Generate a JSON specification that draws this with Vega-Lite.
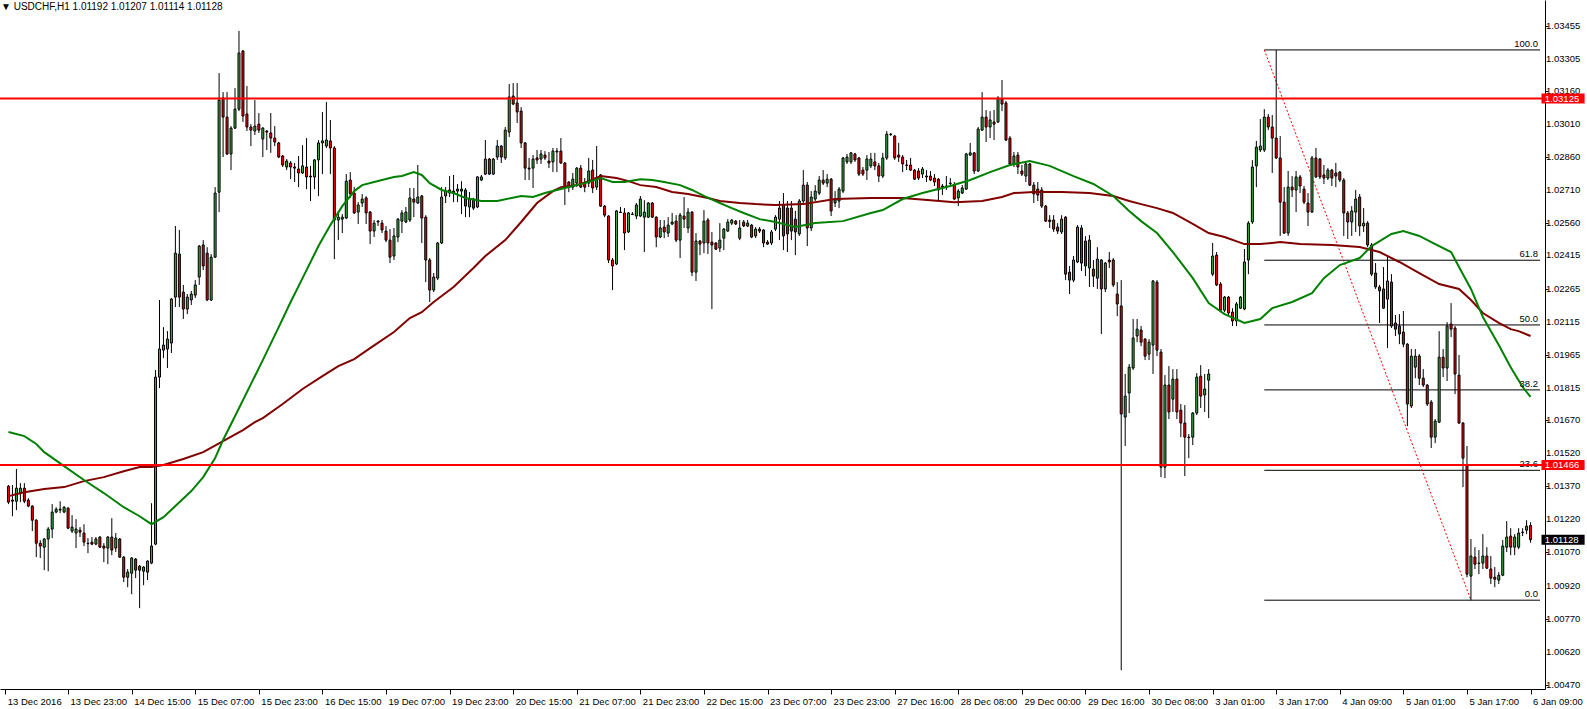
{
"$schema":"https://vega.github.io/schema/vega-lite/v6.json",
"width":1545,"height":689,
"autosize":{"type":"none"},
"padding":{"left":0,"top":0,"right":42,"bottom":20},
"background":"white",
"config":{"view":{"stroke":null},"font":"Liberation Sans","axis":{"labelOverlap":false,"labelBound":false,"labelFlush":false}},
"title":{"text":"▼ USDCHF,H1  1.01192 1.01207 1.01114 1.01128","anchor":"start","offset":-12,"fontSize":10,"fontWeight":"normal","color":"#000","font":"Liberation Sans","dx":2},
"datasets":{
"yt":[{"v":1.0047},{"v":1.0062},{"v":1.0077},{"v":1.0092},{"v":1.0107},{"v":1.0122},{"v":1.0137},{"v":1.0152},{"v":1.0167},{"v":1.01815},{"v":1.01965},{"v":1.02115},{"v":1.02265},{"v":1.02415},{"v":1.0256},{"v":1.0271},{"v":1.0286},{"v":1.0301},{"v":1.0316},{"v":1.03305},{"v":1.03455}],
"fib":[{"lv":"100.0","p":1.03345,"a":316,"b":385.375},{"lv":"61.8","p":1.02393,"a":316,"b":385.375},{"lv":"50.0","p":1.021,"a":316,"b":385.375},{"lv":"38.2","p":1.01806,"a":316,"b":385.375},{"lv":"23.6","p":1.01442,"a":316,"b":385.375},{"lv":"0.0","p":1.00854,"a":316,"b":385.375}],
"trend":[{"i0":316,"p0":1.03345,"i1":368,"p1":1.00854}],
"tags":[{"p":1.03125,"t":"1.03125","k":"level"},{"p":1.01466,"t":"1.01466","k":"level"},{"p":1.01128,"t":"1.01128","k":"bid"}],
"maf":[{"i":0,"v":1.01615},{"i":4,"v":1.01597},{"i":7,"v":1.01561},{"i":9,"v":1.01524},{"i":14,"v":1.01461},{"i":19,"v":1.01398},{"i":24,"v":1.01339},{"i":29,"v":1.01275},{"i":33,"v":1.01234},{"i":36,"v":1.01198},{"i":39,"v":1.0123},{"i":42,"v":1.0128},{"i":46,"v":1.01348},{"i":49,"v":1.01411},{"i":52,"v":1.01497},{"i":54,"v":1.01579},{"i":57,"v":1.01687},{"i":61,"v":1.01832},{"i":64,"v":1.01941},{"i":68,"v":1.0209},{"i":71,"v":1.02204},{"i":74,"v":1.02312},{"i":78,"v":1.02457},{"i":81,"v":1.02552},{"i":84,"v":1.02638},{"i":87,"v":1.02706},{"i":89,"v":1.02733},{"i":92,"v":1.02747},{"i":94,"v":1.02756},{"i":97,"v":1.0277},{"i":99,"v":1.02774},{"i":102,"v":1.02792},{"i":104,"v":1.02779},{"i":106,"v":1.02742},{"i":109,"v":1.02711},{"i":112,"v":1.02697},{"i":115,"v":1.02675},{"i":119,"v":1.02661},{"i":123,"v":1.02661},{"i":129,"v":1.02684},{"i":132,"v":1.02679},{"i":135,"v":1.02697},{"i":140,"v":1.0272},{"i":145,"v":1.02742},{"i":149,"v":1.02765},{"i":152,"v":1.02747},{"i":155,"v":1.02747},{"i":159,"v":1.0276},{"i":162,"v":1.02756},{"i":165,"v":1.02747},{"i":169,"v":1.02733},{"i":172,"v":1.02711},{"i":175,"v":1.02684},{"i":179,"v":1.02652},{"i":182,"v":1.02629},{"i":185,"v":1.02607},{"i":189,"v":1.02579},{"i":193,"v":1.02566},{"i":198,"v":1.02543},{"i":203,"v":1.02561},{"i":210,"v":1.0257},{"i":217,"v":1.02607},{"i":220,"v":1.0262},{"i":225,"v":1.0267},{"i":230,"v":1.02697},{"i":237,"v":1.02729},{"i":242,"v":1.02756},{"i":247,"v":1.02792},{"i":252,"v":1.02824},{"i":257,"v":1.02842},{"i":262,"v":1.0282},{"i":268,"v":1.02774},{"i":273,"v":1.02738},{"i":278,"v":1.02684},{"i":282,"v":1.02616},{"i":285,"v":1.0257},{"i":289,"v":1.02516},{"i":293,"v":1.0243},{"i":298,"v":1.02312},{"i":302,"v":1.02199},{"i":306,"v":1.02149},{"i":311,"v":1.02109},{"i":315,"v":1.02127},{"i":318,"v":1.02176},{"i":323,"v":1.02204},{"i":328,"v":1.02244},{"i":331,"v":1.02312},{"i":335,"v":1.02371},{"i":340,"v":1.02403},{"i":343,"v":1.02457},{"i":348,"v":1.02512},{"i":351,"v":1.02525},{"i":355,"v":1.02503},{"i":359,"v":1.02466},{"i":363,"v":1.0243},{"i":365,"v":1.02362},{"i":368,"v":1.02263},{"i":371,"v":1.02136},{"i":375,"v":1.02009},{"i":378,"v":1.01909},{"i":381,"v":1.01819},{"i":383,"v":1.01774}],
"mas":[{"i":0,"v":1.01325},{"i":4,"v":1.01343},{"i":9,"v":1.01357},{"i":14,"v":1.01366},{"i":19,"v":1.01393},{"i":24,"v":1.01411},{"i":29,"v":1.01438},{"i":33,"v":1.01457},{"i":36,"v":1.01457},{"i":39,"v":1.01466},{"i":44,"v":1.01493},{"i":49,"v":1.01524},{"i":54,"v":1.01574},{"i":59,"v":1.01624},{"i":62,"v":1.0166},{"i":64,"v":1.01678},{"i":69,"v":1.01742},{"i":74,"v":1.0181},{"i":79,"v":1.01868},{"i":83,"v":1.01914},{"i":87,"v":1.01945},{"i":91,"v":1.01995},{"i":97,"v":1.02068},{"i":101,"v":1.02131},{"i":104,"v":1.02158},{"i":107,"v":1.02204},{"i":112,"v":1.02272},{"i":117,"v":1.02358},{"i":120,"v":1.02412},{"i":125,"v":1.02484},{"i":129,"v":1.02566},{"i":133,"v":1.02652},{"i":137,"v":1.02706},{"i":139,"v":1.02724},{"i":143,"v":1.02733},{"i":146,"v":1.02751},{"i":149,"v":1.02774},{"i":153,"v":1.02765},{"i":156,"v":1.02751},{"i":159,"v":1.02733},{"i":163,"v":1.02724},{"i":167,"v":1.02702},{"i":171,"v":1.02693},{"i":176,"v":1.02675},{"i":179,"v":1.02661},{"i":184,"v":1.02652},{"i":188,"v":1.02647},{"i":193,"v":1.02643},{"i":200,"v":1.02647},{"i":208,"v":1.0267},{"i":217,"v":1.02675},{"i":225,"v":1.02675},{"i":232,"v":1.02665},{"i":238,"v":1.02656},{"i":245,"v":1.02661},{"i":250,"v":1.02679},{"i":253,"v":1.02697},{"i":258,"v":1.02702},{"i":265,"v":1.02702},{"i":272,"v":1.02697},{"i":278,"v":1.02684},{"i":282,"v":1.02661},{"i":285,"v":1.02647},{"i":289,"v":1.02629},{"i":293,"v":1.02607},{"i":298,"v":1.02557},{"i":302,"v":1.02516},{"i":306,"v":1.02498},{"i":311,"v":1.02466},{"i":315,"v":1.02466},{"i":320,"v":1.02475},{"i":325,"v":1.02466},{"i":333,"v":1.02462},{"i":340,"v":1.02453},{"i":345,"v":1.0243},{"i":350,"v":1.02385},{"i":355,"v":1.02335},{"i":360,"v":1.02285},{"i":365,"v":1.02263},{"i":368,"v":1.02213},{"i":371,"v":1.02154},{"i":375,"v":1.02109},{"i":378,"v":1.02081},{"i":380,"v":1.02072},{"i":383,"v":1.0205}],
"bars":[
{"i":0,"o":1.0137,"h":1.01375,"l":1.01289,"c":1.01298},
{"i":1,"o":1.01307,"h":1.01375,"l":1.01234,"c":1.01302},
{"i":2,"o":1.01302,"h":1.01448,"l":1.01262,"c":1.01361},
{"i":3,"o":1.01339,"h":1.01384,"l":1.01298,"c":1.01361},
{"i":4,"o":1.01361,"h":1.01384,"l":1.01293,"c":1.01302},
{"i":5,"o":1.01307,"h":1.01316,"l":1.01275,"c":1.0128},
{"i":6,"o":1.0128,"h":1.01284,"l":1.01167,"c":1.01216},
{"i":7,"o":1.01216,"h":1.01221,"l":1.01049,"c":1.01112},
{"i":8,"o":1.01112,"h":1.01126,"l":1.01045,"c":1.01099},
{"i":9,"o":1.01094,"h":1.01135,"l":1.0099,"c":1.01131},
{"i":10,"o":1.01131,"h":1.01185,"l":1.00985,"c":1.01176},
{"i":11,"o":1.01176,"h":1.01289,"l":1.01135,"c":1.01253},
{"i":12,"o":1.01253,"h":1.01275,"l":1.01248,"c":1.01266},
{"i":13,"o":1.01266,"h":1.01302,"l":1.01248,"c":1.01262},
{"i":14,"o":1.01253,"h":1.0128,"l":1.01248,"c":1.01275},
{"i":15,"o":1.01271,"h":1.01275,"l":1.01176,"c":1.0118},
{"i":16,"o":1.01167,"h":1.01239,"l":1.01158,"c":1.01185},
{"i":17,"o":1.01158,"h":1.01221,"l":1.0109,"c":1.01176},
{"i":18,"o":1.01171,"h":1.01185,"l":1.0114,"c":1.01162},
{"i":19,"o":1.01158,"h":1.01198,"l":1.01099,"c":1.01117},
{"i":20,"o":1.01112,"h":1.01135,"l":1.01067,"c":1.0111},
{"i":21,"o":1.01117,"h":1.0114,"l":1.01103,"c":1.01108},
{"i":22,"o":1.01108,"h":1.0114,"l":1.01103,"c":1.01131},
{"i":23,"o":1.0114,"h":1.01144,"l":1.0109,"c":1.01094},
{"i":24,"o":1.01099,"h":1.01112,"l":1.01026,"c":1.0109},
{"i":25,"o":1.0109,"h":1.01144,"l":1.01017,"c":1.0114},
{"i":26,"o":1.0114,"h":1.01225,"l":1.01058,"c":1.01081},
{"i":27,"o":1.0109,"h":1.01158,"l":1.01072,"c":1.01135},
{"i":28,"o":1.01131,"h":1.01135,"l":1.01045,"c":1.01049},
{"i":29,"o":1.01049,"h":1.01054,"l":1.00936,"c":1.00958},
{"i":30,"o":1.00958,"h":1.00995,"l":1.00913,"c":1.00981},
{"i":31,"o":1.00976,"h":1.01049,"l":1.00881,"c":1.01045},
{"i":32,"o":1.0104,"h":1.01045,"l":1.00954,"c":1.0099},
{"i":33,"o":1.01008,"h":1.01013,"l":1.00818,"c":1.0099},
{"i":34,"o":1.00985,"h":1.01008,"l":1.00922,"c":1.01004},
{"i":35,"o":1.00981,"h":1.01035,"l":1.00945,"c":1.01031},
{"i":36,"o":1.01022,"h":1.01293,"l":1.01017,"c":1.01099},
{"i":37,"o":1.01108,"h":1.01896,"l":1.01103,"c":1.01864},
{"i":38,"o":1.01864,"h":1.02213,"l":1.01814,"c":1.01991},
{"i":39,"o":1.01986,"h":1.0209,"l":1.0195,"c":1.02009},
{"i":40,"o":1.01991,"h":1.02072,"l":1.01905,"c":1.02036},
{"i":41,"o":1.02018,"h":1.02222,"l":1.01973,"c":1.02217},
{"i":42,"o":1.02226,"h":1.02548,"l":1.02181,"c":1.02425},
{"i":43,"o":1.02421,"h":1.0253,"l":1.02181,"c":1.02226},
{"i":44,"o":1.02249,"h":1.02281,"l":1.02127,"c":1.02172},
{"i":45,"o":1.02172,"h":1.0224,"l":1.02149,"c":1.02226},
{"i":46,"o":1.02213,"h":1.02254,"l":1.0219,"c":1.0224},
{"i":47,"o":1.02235,"h":1.02303,"l":1.02222,"c":1.02281},
{"i":48,"o":1.02317,"h":1.02462,"l":1.02281,"c":1.02457},
{"i":49,"o":1.02462,"h":1.02484,"l":1.02348,"c":1.02367},
{"i":50,"o":1.02425,"h":1.02452,"l":1.02208,"c":1.02213},
{"i":51,"o":1.02213,"h":1.02421,"l":1.02208,"c":1.02407},
{"i":52,"o":1.02407,"h":1.02724,"l":1.02403,"c":1.02697},
{"i":53,"o":1.02701,"h":1.0324,"l":1.02611,"c":1.03118},
{"i":54,"o":1.03127,"h":1.03154,"l":1.0286,"c":1.03041},
{"i":55,"o":1.03041,"h":1.03154,"l":1.02869,"c":1.02874},
{"i":56,"o":1.02874,"h":1.03,"l":1.02801,"c":1.02991},
{"i":57,"o":1.02991,"h":1.03172,"l":1.02987,"c":1.03077},
{"i":58,"o":1.03077,"h":1.03431,"l":1.03068,"c":1.03331},
{"i":59,"o":1.0334,"h":1.03345,"l":1.03019,"c":1.03046},
{"i":60,"o":1.03055,"h":1.03182,"l":1.02978,"c":1.02996},
{"i":61,"o":1.02996,"h":1.03009,"l":1.0291,"c":1.02982},
{"i":62,"o":1.02978,"h":1.03118,"l":1.0296,"c":1.03},
{"i":63,"o":1.03009,"h":1.03059,"l":1.02969,"c":1.02982},
{"i":64,"o":1.02942,"h":1.02996,"l":1.0286,"c":1.02991},
{"i":65,"o":1.02978,"h":1.02982,"l":1.02892,"c":1.02973},
{"i":66,"o":1.02969,"h":1.03059,"l":1.02879,"c":1.02946},
{"i":67,"o":1.02946,"h":1.03,"l":1.0291,"c":1.02928},
{"i":68,"o":1.02924,"h":1.02928,"l":1.02856,"c":1.0286},
{"i":69,"o":1.02865,"h":1.02869,"l":1.02815,"c":1.02824},
{"i":70,"o":1.02815,"h":1.02851,"l":1.02801,"c":1.02842},
{"i":71,"o":1.02833,"h":1.02842,"l":1.0276,"c":1.02815},
{"i":72,"o":1.02815,"h":1.02833,"l":1.02747,"c":1.0281},
{"i":73,"o":1.02806,"h":1.02865,"l":1.02724,"c":1.02788},
{"i":74,"o":1.02788,"h":1.02914,"l":1.02783,"c":1.0282},
{"i":75,"o":1.02815,"h":1.02946,"l":1.02715,"c":1.0277},
{"i":76,"o":1.02774,"h":1.0282,"l":1.02661,"c":1.0277},
{"i":77,"o":1.0277,"h":1.02851,"l":1.02715,"c":1.02847},
{"i":78,"o":1.02847,"h":1.02937,"l":1.02683,"c":1.02924},
{"i":79,"o":1.02924,"h":1.03064,"l":1.02783,"c":1.02933},
{"i":80,"o":1.0291,"h":1.03109,"l":1.02901,"c":1.02937},
{"i":81,"o":1.02933,"h":1.03028,"l":1.02783,"c":1.02901},
{"i":82,"o":1.02901,"h":1.0291,"l":1.02398,"c":1.02575},
{"i":83,"o":1.02575,"h":1.02616,"l":1.02484,"c":1.02588},
{"i":84,"o":1.02579,"h":1.02602,"l":1.02516,"c":1.02588},
{"i":85,"o":1.02584,"h":1.02783,"l":1.02579,"c":1.02751},
{"i":86,"o":1.02756,"h":1.02792,"l":1.02675,"c":1.02693},
{"i":87,"o":1.02697,"h":1.02724,"l":1.02602,"c":1.02607},
{"i":88,"o":1.02611,"h":1.02656,"l":1.02557,"c":1.02643},
{"i":89,"o":1.02652,"h":1.02693,"l":1.02634,"c":1.0267},
{"i":90,"o":1.02675,"h":1.02683,"l":1.02557,"c":1.02607},
{"i":91,"o":1.02611,"h":1.02616,"l":1.02466,"c":1.02525},
{"i":92,"o":1.02525,"h":1.02575,"l":1.02498,"c":1.02561},
{"i":93,"o":1.02566,"h":1.02575,"l":1.02548,"c":1.0257},
{"i":94,"o":1.02561,"h":1.02575,"l":1.02516,"c":1.0253},
{"i":95,"o":1.02525,"h":1.02548,"l":1.02475,"c":1.02484},
{"i":96,"o":1.02484,"h":1.02534,"l":1.0238,"c":1.02407},
{"i":97,"o":1.02412,"h":1.02539,"l":1.02394,"c":1.02503},
{"i":98,"o":1.02498,"h":1.02584,"l":1.02475,"c":1.02579},
{"i":99,"o":1.0257,"h":1.0262,"l":1.02516,"c":1.02607},
{"i":100,"o":1.02566,"h":1.02634,"l":1.02561,"c":1.02611},
{"i":101,"o":1.02575,"h":1.0272,"l":1.02566,"c":1.02675},
{"i":102,"o":1.0267,"h":1.0272,"l":1.02588,"c":1.02656},
{"i":103,"o":1.02652,"h":1.02824,"l":1.02647,"c":1.02679},
{"i":104,"o":1.02684,"h":1.02688,"l":1.02471,"c":1.02584},
{"i":105,"o":1.02588,"h":1.02597,"l":1.02294,"c":1.02394},
{"i":106,"o":1.02394,"h":1.02403,"l":1.02204,"c":1.02258},
{"i":107,"o":1.02258,"h":1.02335,"l":1.02249,"c":1.02317},
{"i":108,"o":1.02312,"h":1.02475,"l":1.02303,"c":1.02471},
{"i":109,"o":1.02471,"h":1.02724,"l":1.02466,"c":1.02679},
{"i":110,"o":1.02684,"h":1.02724,"l":1.02652,"c":1.02706},
{"i":111,"o":1.02711,"h":1.02774,"l":1.02679,"c":1.02697},
{"i":112,"o":1.02706,"h":1.02779,"l":1.02656,"c":1.02697},
{"i":113,"o":1.02715,"h":1.02738,"l":1.02656,"c":1.02706},
{"i":114,"o":1.02715,"h":1.02751,"l":1.02602,"c":1.02706},
{"i":115,"o":1.02711,"h":1.0272,"l":1.02588,"c":1.02638},
{"i":116,"o":1.02634,"h":1.02702,"l":1.02588,"c":1.0267},
{"i":117,"o":1.0267,"h":1.02675,"l":1.0262,"c":1.02629},
{"i":118,"o":1.02634,"h":1.02774,"l":1.02629,"c":1.0277},
{"i":119,"o":1.02756,"h":1.02779,"l":1.02751,"c":1.0277},
{"i":120,"o":1.02783,"h":1.02937,"l":1.02779,"c":1.02851},
{"i":121,"o":1.02851,"h":1.02856,"l":1.02779,"c":1.02783},
{"i":122,"o":1.02783,"h":1.02856,"l":1.02779,"c":1.02851},
{"i":123,"o":1.0286,"h":1.02937,"l":1.02847,"c":1.0291},
{"i":124,"o":1.0291,"h":1.02914,"l":1.02833,"c":1.0286},
{"i":125,"o":1.02856,"h":1.02996,"l":1.02847,"c":1.02982},
{"i":126,"o":1.02973,"h":1.03191,"l":1.02951,"c":1.03132},
{"i":127,"o":1.03136,"h":1.03195,"l":1.03095,"c":1.031},
{"i":128,"o":1.03105,"h":1.03195,"l":1.03014,"c":1.03064},
{"i":129,"o":1.03068,"h":1.03086,"l":1.02901,"c":1.02924},
{"i":130,"o":1.02924,"h":1.02928,"l":1.02756,"c":1.0281},
{"i":131,"o":1.0281,"h":1.02856,"l":1.02756,"c":1.02806},
{"i":132,"o":1.0281,"h":1.02869,"l":1.0272,"c":1.02851},
{"i":133,"o":1.02856,"h":1.02892,"l":1.02829,"c":1.02847},
{"i":134,"o":1.02851,"h":1.02892,"l":1.02829,"c":1.02874},
{"i":135,"o":1.02869,"h":1.02887,"l":1.02847,"c":1.02856},
{"i":136,"o":1.02842,"h":1.02883,"l":1.0281,"c":1.02833},
{"i":137,"o":1.02838,"h":1.02901,"l":1.02792,"c":1.02887},
{"i":138,"o":1.02887,"h":1.02901,"l":1.02792,"c":1.02883},
{"i":139,"o":1.02887,"h":1.02946,"l":1.02829,"c":1.02833},
{"i":140,"o":1.02833,"h":1.02838,"l":1.02643,"c":1.0272},
{"i":141,"o":1.02747,"h":1.02751,"l":1.02701,"c":1.02724},
{"i":142,"o":1.02724,"h":1.02788,"l":1.02711,"c":1.0276},
{"i":143,"o":1.02742,"h":1.02815,"l":1.02724,"c":1.0281},
{"i":144,"o":1.0281,"h":1.02824,"l":1.0272,"c":1.02724},
{"i":145,"o":1.02742,"h":1.02765,"l":1.02701,"c":1.02724},
{"i":146,"o":1.02742,"h":1.02856,"l":1.02724,"c":1.02797},
{"i":147,"o":1.02801,"h":1.02847,"l":1.02697,"c":1.0272},
{"i":148,"o":1.02724,"h":1.0291,"l":1.02711,"c":1.02765},
{"i":149,"o":1.02779,"h":1.02783,"l":1.02634,"c":1.02638},
{"i":150,"o":1.02638,"h":1.02643,"l":1.02588,"c":1.02597},
{"i":151,"o":1.02593,"h":1.02597,"l":1.0238,"c":1.02394},
{"i":152,"o":1.02394,"h":1.02403,"l":1.02258,"c":1.02367},
{"i":153,"o":1.02376,"h":1.0262,"l":1.02371,"c":1.02616},
{"i":154,"o":1.02611,"h":1.02634,"l":1.02607,"c":1.02609},
{"i":155,"o":1.02607,"h":1.02629,"l":1.02439,"c":1.02516},
{"i":156,"o":1.02521,"h":1.02611,"l":1.02516,"c":1.02607},
{"i":157,"o":1.02602,"h":1.02611,"l":1.02597,"c":1.026},
{"i":158,"o":1.02593,"h":1.02652,"l":1.02579,"c":1.02643},
{"i":159,"o":1.02593,"h":1.02684,"l":1.02588,"c":1.0267},
{"i":160,"o":1.02588,"h":1.02665,"l":1.0243,"c":1.02611},
{"i":161,"o":1.02588,"h":1.02656,"l":1.02584,"c":1.02652},
{"i":162,"o":1.02652,"h":1.02656,"l":1.02584,"c":1.02588},
{"i":163,"o":1.02588,"h":1.02592,"l":1.02452,"c":1.02498},
{"i":164,"o":1.02498,"h":1.02575,"l":1.02493,"c":1.02539},
{"i":165,"o":1.02543,"h":1.02575,"l":1.02493,"c":1.02521},
{"i":166,"o":1.02516,"h":1.02588,"l":1.02498,"c":1.02552},
{"i":167,"o":1.02557,"h":1.02607,"l":1.02552,"c":1.02566},
{"i":168,"o":1.0257,"h":1.02597,"l":1.02475,"c":1.02484},
{"i":169,"o":1.02484,"h":1.02607,"l":1.02403,"c":1.02597},
{"i":170,"o":1.02593,"h":1.02679,"l":1.02539,"c":1.02579},
{"i":171,"o":1.02539,"h":1.02629,"l":1.02516,"c":1.02611},
{"i":172,"o":1.02611,"h":1.02615,"l":1.02321,"c":1.02339},
{"i":173,"o":1.02339,"h":1.02516,"l":1.02299,"c":1.0248},
{"i":174,"o":1.0248,"h":1.02484,"l":1.02416,"c":1.02466},
{"i":175,"o":1.02471,"h":1.0262,"l":1.02425,"c":1.0257},
{"i":176,"o":1.02575,"h":1.02584,"l":1.02421,"c":1.02471},
{"i":177,"o":1.02475,"h":1.02521,"l":1.02172,"c":1.02462},
{"i":178,"o":1.02471,"h":1.02475,"l":1.02439,"c":1.02443},
{"i":179,"o":1.02448,"h":1.02561,"l":1.0243,"c":1.02484},
{"i":180,"o":1.02493,"h":1.02539,"l":1.02439,"c":1.02534},
{"i":181,"o":1.02525,"h":1.02579,"l":1.02521,"c":1.02566},
{"i":182,"o":1.02561,"h":1.02579,"l":1.02552,"c":1.02575},
{"i":183,"o":1.0257,"h":1.02575,"l":1.02552,"c":1.02557},
{"i":184,"o":1.02493,"h":1.02575,"l":1.02484,"c":1.02539},
{"i":185,"o":1.02566,"h":1.02575,"l":1.02543,"c":1.02548},
{"i":186,"o":1.02548,"h":1.02575,"l":1.02543,"c":1.02561},
{"i":187,"o":1.02552,"h":1.02557,"l":1.02493,"c":1.02498},
{"i":188,"o":1.02503,"h":1.02543,"l":1.02493,"c":1.02534},
{"i":189,"o":1.02534,"h":1.02543,"l":1.02516,"c":1.02525},
{"i":190,"o":1.0253,"h":1.02534,"l":1.02452,"c":1.02471},
{"i":191,"o":1.02475,"h":1.02484,"l":1.02462,"c":1.02466},
{"i":192,"o":1.02471,"h":1.0253,"l":1.02462,"c":1.02521},
{"i":193,"o":1.02534,"h":1.02597,"l":1.02525,"c":1.02588},
{"i":194,"o":1.02579,"h":1.02661,"l":1.02484,"c":1.02629},
{"i":195,"o":1.02643,"h":1.02697,"l":1.02439,"c":1.02503},
{"i":196,"o":1.02629,"h":1.02661,"l":1.0243,"c":1.02512},
{"i":197,"o":1.02629,"h":1.02661,"l":1.02484,"c":1.02525},
{"i":198,"o":1.02579,"h":1.02616,"l":1.02416,"c":1.02521},
{"i":199,"o":1.02512,"h":1.0267,"l":1.02503,"c":1.02661},
{"i":200,"o":1.02661,"h":1.02801,"l":1.02652,"c":1.02733},
{"i":201,"o":1.02733,"h":1.02747,"l":1.02457,"c":1.02539},
{"i":202,"o":1.02539,"h":1.02706,"l":1.02525,"c":1.02679},
{"i":203,"o":1.0267,"h":1.02733,"l":1.02661,"c":1.02706},
{"i":204,"o":1.02697,"h":1.02774,"l":1.02688,"c":1.02756},
{"i":205,"o":1.02756,"h":1.02801,"l":1.02733,"c":1.02742},
{"i":206,"o":1.02742,"h":1.02783,"l":1.02724,"c":1.0276},
{"i":207,"o":1.0276,"h":1.02765,"l":1.02593,"c":1.02616},
{"i":208,"o":1.02652,"h":1.02706,"l":1.02634,"c":1.02665},
{"i":209,"o":1.02661,"h":1.02724,"l":1.02629,"c":1.02715},
{"i":210,"o":1.02706,"h":1.0286,"l":1.02697,"c":1.02856},
{"i":211,"o":1.02838,"h":1.02874,"l":1.02829,"c":1.0286},
{"i":212,"o":1.02838,"h":1.02883,"l":1.02829,"c":1.02879},
{"i":213,"o":1.02874,"h":1.02879,"l":1.02838,"c":1.02847},
{"i":214,"o":1.02856,"h":1.0286,"l":1.02774,"c":1.02783},
{"i":215,"o":1.02801,"h":1.02815,"l":1.02774,"c":1.02783},
{"i":216,"o":1.02801,"h":1.02869,"l":1.02756,"c":1.02851},
{"i":217,"o":1.0282,"h":1.02879,"l":1.0281,"c":1.02851},
{"i":218,"o":1.02838,"h":1.02879,"l":1.02801,"c":1.0282},
{"i":219,"o":1.0282,"h":1.02833,"l":1.02747,"c":1.02774},
{"i":220,"o":1.02774,"h":1.02879,"l":1.02765,"c":1.02856},
{"i":221,"o":1.02856,"h":1.02978,"l":1.02847,"c":1.02964},
{"i":222,"o":1.02964,"h":1.02969,"l":1.02955,"c":1.02962},
{"i":223,"o":1.02955,"h":1.0296,"l":1.02847,"c":1.02856},
{"i":224,"o":1.02869,"h":1.02924,"l":1.02838,"c":1.0286},
{"i":225,"o":1.0286,"h":1.02869,"l":1.02792,"c":1.02829},
{"i":226,"o":1.02824,"h":1.02847,"l":1.02801,"c":1.02822},
{"i":227,"o":1.02824,"h":1.02856,"l":1.02797,"c":1.02801},
{"i":228,"o":1.02801,"h":1.02806,"l":1.02756,"c":1.0276},
{"i":229,"o":1.02797,"h":1.0281,"l":1.02756,"c":1.02765},
{"i":230,"o":1.02783,"h":1.02815,"l":1.02765,"c":1.02806},
{"i":231,"o":1.02774,"h":1.02801,"l":1.02747,"c":1.0277},
{"i":232,"o":1.02774,"h":1.02797,"l":1.02751,"c":1.02756},
{"i":233,"o":1.02765,"h":1.02783,"l":1.02729,"c":1.02747},
{"i":234,"o":1.0276,"h":1.02765,"l":1.02661,"c":1.02711},
{"i":235,"o":1.02729,"h":1.02738,"l":1.02688,"c":1.02724},
{"i":236,"o":1.02729,"h":1.02774,"l":1.02711,"c":1.02727},
{"i":237,"o":1.02742,"h":1.02765,"l":1.02724,"c":1.0274},
{"i":238,"o":1.02733,"h":1.02747,"l":1.02665,"c":1.0267},
{"i":239,"o":1.02675,"h":1.02715,"l":1.02638,"c":1.02706},
{"i":240,"o":1.02697,"h":1.02733,"l":1.02693,"c":1.0272},
{"i":241,"o":1.02715,"h":1.02879,"l":1.02711,"c":1.02874},
{"i":242,"o":1.02869,"h":1.02924,"l":1.02865,"c":1.02879},
{"i":243,"o":1.02879,"h":1.02883,"l":1.02783,"c":1.02797},
{"i":244,"o":1.02797,"h":1.02996,"l":1.02792,"c":1.02987},
{"i":245,"o":1.02982,"h":1.03154,"l":1.02978,"c":1.03041},
{"i":246,"o":1.03041,"h":1.03073,"l":1.02928,"c":1.02996},
{"i":247,"o":1.02996,"h":1.03068,"l":1.02946,"c":1.03028},
{"i":248,"o":1.03019,"h":1.03073,"l":1.02937,"c":1.03009},
{"i":249,"o":1.03019,"h":1.03136,"l":1.03014,"c":1.03127},
{"i":250,"o":1.03123,"h":1.03209,"l":1.03068,"c":1.031},
{"i":251,"o":1.03105,"h":1.03114,"l":1.02933,"c":1.02937},
{"i":252,"o":1.02946,"h":1.02955,"l":1.0282,"c":1.02829},
{"i":253,"o":1.02829,"h":1.02883,"l":1.02815,"c":1.02865},
{"i":254,"o":1.02869,"h":1.02883,"l":1.02783,"c":1.02815},
{"i":255,"o":1.02797,"h":1.02824,"l":1.02774,"c":1.02783},
{"i":256,"o":1.02774,"h":1.02838,"l":1.02747,"c":1.02829},
{"i":257,"o":1.02829,"h":1.02833,"l":1.02729,"c":1.02733},
{"i":258,"o":1.02733,"h":1.02747,"l":1.02652,"c":1.02693},
{"i":259,"o":1.02715,"h":1.02747,"l":1.02661,"c":1.02688},
{"i":260,"o":1.02711,"h":1.02724,"l":1.02629,"c":1.02638},
{"i":261,"o":1.02638,"h":1.02643,"l":1.02566,"c":1.0257},
{"i":262,"o":1.02575,"h":1.02597,"l":1.02539,"c":1.02568},
{"i":263,"o":1.02575,"h":1.02597,"l":1.02521,"c":1.02534},
{"i":264,"o":1.02543,"h":1.02561,"l":1.02512,"c":1.02525},
{"i":265,"o":1.02521,"h":1.02597,"l":1.02512,"c":1.02579},
{"i":266,"o":1.02588,"h":1.02593,"l":1.02303,"c":1.0233},
{"i":267,"o":1.02339,"h":1.02367,"l":1.0224,"c":1.02303},
{"i":268,"o":1.02303,"h":1.02412,"l":1.02294,"c":1.02394},
{"i":269,"o":1.02385,"h":1.02552,"l":1.0238,"c":1.02543},
{"i":270,"o":1.02539,"h":1.02552,"l":1.02344,"c":1.0238},
{"i":271,"o":1.0248,"h":1.02502,"l":1.02321,"c":1.02367},
{"i":272,"o":1.02358,"h":1.02507,"l":1.02272,"c":1.02484},
{"i":273,"o":1.02353,"h":1.02394,"l":1.02272,"c":1.02321},
{"i":274,"o":1.02312,"h":1.02452,"l":1.02263,"c":1.02398},
{"i":275,"o":1.02394,"h":1.02398,"l":1.02059,"c":1.02263},
{"i":276,"o":1.02263,"h":1.02385,"l":1.02249,"c":1.0238},
{"i":277,"o":1.02394,"h":1.0243,"l":1.02358,"c":1.02385},
{"i":278,"o":1.02394,"h":1.02403,"l":1.02272,"c":1.02281},
{"i":279,"o":1.0224,"h":1.02294,"l":1.0214,"c":1.02195},
{"i":280,"o":1.02186,"h":1.02303,"l":1.00537,"c":1.01697},
{"i":281,"o":1.01683,"h":1.01878,"l":1.01552,"c":1.01778},
{"i":282,"o":1.01792,"h":1.01923,"l":1.01701,"c":1.01909},
{"i":283,"o":1.01905,"h":1.02127,"l":1.01896,"c":1.02041},
{"i":284,"o":1.0205,"h":1.02127,"l":1.02022,"c":1.02081},
{"i":285,"o":1.02077,"h":1.02095,"l":1.02004,"c":1.02022},
{"i":286,"o":1.02036,"h":1.0204,"l":1.01941,"c":1.01959},
{"i":287,"o":1.01968,"h":1.02036,"l":1.01941,"c":1.02022},
{"i":288,"o":1.02009,"h":1.02303,"l":1.01878,"c":1.02299},
{"i":289,"o":1.02294,"h":1.02303,"l":1.01959,"c":1.01986},
{"i":290,"o":1.01977,"h":1.01991,"l":1.01411,"c":1.01456},
{"i":291,"o":1.01456,"h":1.01873,"l":1.01407,"c":1.01828},
{"i":292,"o":1.01828,"h":1.01914,"l":1.01674,"c":1.01706},
{"i":293,"o":1.01764,"h":1.019,"l":1.01706,"c":1.01855},
{"i":294,"o":1.01855,"h":1.019,"l":1.01674,"c":1.01706},
{"i":295,"o":1.01714,"h":1.01742,"l":1.01592,"c":1.01656},
{"i":296,"o":1.01656,"h":1.01737,"l":1.01416,"c":1.01592},
{"i":297,"o":1.01592,"h":1.01606,"l":1.01497,"c":1.0159},
{"i":298,"o":1.01592,"h":1.01706,"l":1.01556,"c":1.01701},
{"i":299,"o":1.01701,"h":1.01882,"l":1.01692,"c":1.01864},
{"i":300,"o":1.01868,"h":1.01918,"l":1.01724,"c":1.01778},
{"i":301,"o":1.01783,"h":1.01878,"l":1.01706,"c":1.0181},
{"i":302,"o":1.0185,"h":1.019,"l":1.01678,"c":1.01878},
{"i":303,"o":1.0233,"h":1.02471,"l":1.02321,"c":1.02412},
{"i":304,"o":1.02416,"h":1.0243,"l":1.02276,"c":1.02281},
{"i":305,"o":1.02285,"h":1.02294,"l":1.02158,"c":1.02167},
{"i":306,"o":1.02167,"h":1.02231,"l":1.02158,"c":1.02226},
{"i":307,"o":1.02226,"h":1.02231,"l":1.02145,"c":1.02154},
{"i":308,"o":1.02158,"h":1.02176,"l":1.02095,"c":1.02118},
{"i":309,"o":1.02118,"h":1.02204,"l":1.02095,"c":1.02195},
{"i":310,"o":1.02176,"h":1.02231,"l":1.02172,"c":1.02226},
{"i":311,"o":1.02172,"h":1.02444,"l":1.02167,"c":1.02385},
{"i":312,"o":1.02394,"h":1.0257,"l":1.0233,"c":1.02561},
{"i":313,"o":1.02566,"h":1.02846,"l":1.02557,"c":1.02815},
{"i":314,"o":1.0282,"h":1.02933,"l":1.02724,"c":1.02905},
{"i":315,"o":1.02892,"h":1.03032,"l":1.02883,"c":1.0291},
{"i":316,"o":1.02892,"h":1.03077,"l":1.02883,"c":1.03041},
{"i":317,"o":1.03041,"h":1.03055,"l":1.02982,"c":1.02996},
{"i":318,"o":1.02996,"h":1.0305,"l":1.02788,"c":1.02946},
{"i":319,"o":1.02946,"h":1.03345,"l":1.02851,"c":1.02856},
{"i":320,"o":1.02856,"h":1.02955,"l":1.02503,"c":1.02656},
{"i":321,"o":1.02656,"h":1.02724,"l":1.02512,"c":1.02516},
{"i":322,"o":1.02516,"h":1.02797,"l":1.02503,"c":1.02724},
{"i":323,"o":1.02724,"h":1.02774,"l":1.02679,"c":1.02711},
{"i":324,"o":1.02711,"h":1.02797,"l":1.02611,"c":1.0277},
{"i":325,"o":1.0277,"h":1.02779,"l":1.02697,"c":1.02729},
{"i":326,"o":1.02715,"h":1.02729,"l":1.02647,"c":1.02656},
{"i":327,"o":1.02652,"h":1.02697,"l":1.02548,"c":1.02611},
{"i":328,"o":1.02611,"h":1.02865,"l":1.02607,"c":1.02856},
{"i":329,"o":1.02856,"h":1.02901,"l":1.02765,"c":1.0277},
{"i":330,"o":1.02851,"h":1.02856,"l":1.0276,"c":1.0277},
{"i":331,"o":1.02779,"h":1.02824,"l":1.02738,"c":1.02765},
{"i":332,"o":1.02765,"h":1.0281,"l":1.02756,"c":1.02801},
{"i":333,"o":1.02801,"h":1.02806,"l":1.02729,"c":1.02765},
{"i":334,"o":1.02788,"h":1.02833,"l":1.02724,"c":1.02774},
{"i":335,"o":1.02792,"h":1.02797,"l":1.02747,"c":1.02756},
{"i":336,"o":1.02756,"h":1.02765,"l":1.02503,"c":1.02607},
{"i":337,"o":1.02607,"h":1.02616,"l":1.02489,"c":1.02566},
{"i":338,"o":1.02566,"h":1.02638,"l":1.02503,"c":1.02616},
{"i":339,"o":1.02611,"h":1.02711,"l":1.02521,"c":1.0267},
{"i":340,"o":1.02679,"h":1.02693,"l":1.02503,"c":1.02548},
{"i":341,"o":1.02548,"h":1.02629,"l":1.02521,"c":1.02561},
{"i":342,"o":1.02561,"h":1.0257,"l":1.02452,"c":1.02462},
{"i":343,"o":1.02462,"h":1.02471,"l":1.02321,"c":1.0233},
{"i":344,"o":1.02335,"h":1.0238,"l":1.02263,"c":1.02272},
{"i":345,"o":1.02272,"h":1.02281,"l":1.02109,"c":1.02254},
{"i":346,"o":1.02263,"h":1.02362,"l":1.02172,"c":1.02176},
{"i":347,"o":1.02217,"h":1.02412,"l":1.01995,"c":1.02299},
{"i":348,"o":1.02294,"h":1.0233,"l":1.02086,"c":1.02095},
{"i":349,"o":1.02109,"h":1.02145,"l":1.0205,"c":1.02081},
{"i":350,"o":1.02095,"h":1.02149,"l":1.02013,"c":1.02059},
{"i":351,"o":1.02068,"h":1.02163,"l":1.01999,"c":1.02013},
{"i":352,"o":1.02013,"h":1.02018,"l":1.01642,"c":1.01742},
{"i":353,"o":1.01733,"h":1.01991,"l":1.01724,"c":1.01959},
{"i":354,"o":1.01909,"h":1.01991,"l":1.01859,"c":1.01959},
{"i":355,"o":1.01959,"h":1.01968,"l":1.01828,"c":1.01859},
{"i":356,"o":1.01859,"h":1.019,"l":1.01819,"c":1.01828},
{"i":357,"o":1.01828,"h":1.01832,"l":1.01733,"c":1.01742},
{"i":358,"o":1.01751,"h":1.0176,"l":1.01543,"c":1.01592},
{"i":359,"o":1.01592,"h":1.01674,"l":1.01565,"c":1.01665},
{"i":360,"o":1.0166,"h":1.02072,"l":1.01656,"c":1.01954},
{"i":361,"o":1.01954,"h":1.01991,"l":1.01864,"c":1.01905},
{"i":362,"o":1.01905,"h":1.02113,"l":1.01846,"c":1.02095},
{"i":363,"o":1.02104,"h":1.02199,"l":1.02045,"c":1.02081},
{"i":364,"o":1.02086,"h":1.02095,"l":1.01787,"c":1.01878},
{"i":365,"o":1.01873,"h":1.01964,"l":1.01652,"c":1.01656},
{"i":366,"o":1.01656,"h":1.0166,"l":1.01366,"c":1.01497},
{"i":367,"o":1.01466,"h":1.01552,"l":1.00958,"c":1.00972},
{"i":368,"o":1.00963,"h":1.01131,"l":1.00854,"c":1.01054},
{"i":369,"o":1.01049,"h":1.01094,"l":1.00995,"c":1.01017},
{"i":370,"o":1.01022,"h":1.01081,"l":1.00972,"c":1.0102},
{"i":371,"o":1.01022,"h":1.01153,"l":1.00995,"c":1.01054},
{"i":372,"o":1.01054,"h":1.01094,"l":1.00995,"c":1.00999},
{"i":373,"o":1.00995,"h":1.01054,"l":1.00927,"c":1.00954},
{"i":374,"o":1.00958,"h":1.01004,"l":1.00913,"c":1.00949},
{"i":375,"o":1.00945,"h":1.00981,"l":1.00927,"c":1.00967},
{"i":376,"o":1.00967,"h":1.01126,"l":1.00963,"c":1.01099},
{"i":377,"o":1.01094,"h":1.01212,"l":1.01072,"c":1.0114},
{"i":378,"o":1.01144,"h":1.0118,"l":1.01058,"c":1.01094},
{"i":379,"o":1.01094,"h":1.01153,"l":1.01058,"c":1.0114},
{"i":380,"o":1.01094,"h":1.0118,"l":1.01085,"c":1.01158},
{"i":381,"o":1.01162,"h":1.0118,"l":1.01144,"c":1.0116},
{"i":382,"o":1.01171,"h":1.01216,"l":1.01153,"c":1.01189},
{"i":383,"o":1.01192,"h":1.01207,"l":1.01114,"c":1.01128}
]},
"layer":[
{"data":{"name":"fib"},"mark":{"type":"rule","color":"#000","strokeWidth":1},
 "encoding":{"x":{"field":"a","type":"quantitative","title":null,"scale":{"domain":[-0.875,385.375],"nice":false,"zero":false},
   "axis":{"orient":"bottom","values":[-0.8,15,31,47,63,79,95,111,127,143,159,175,191,207,223,239,255,271,287,303,319,335,351,367,383],
   "labelExpr":"datum.value < 0 ? '13 Dec 2016' : ['13 Dec 23:00','14 Dec 15:00','15 Dec 07:00','15 Dec 23:00','16 Dec 15:00','19 Dec 07:00','19 Dec 23:00','20 Dec 15:00','21 Dec 07:00','21 Dec 23:00','22 Dec 15:00','23 Dec 07:00','23 Dec 23:00','27 Dec 16:00','28 Dec 08:00','29 Dec 00:00','29 Dec 16:00','30 Dec 08:00','3 Jan 01:00','3 Jan 17:00','4 Jan 09:00','5 Jan 01:00','5 Jan 17:00','6 Jan 09:00'][round((datum.value-15)/16)]",
   "grid":false,"tickSize":5,"tickColor":"#000","domainColor":"#000","labelColor":"#000","labelFontSize":9.5,"labelFont":"Liberation Sans","labelAlign":"left","labelPadding":2,"labelOffset":2,"labelOverlap":false,"labelFlush":false,"labelBound":false,"title":null}},
  "x2":{"field":"b"},
  "y":{"field":"p","type":"quantitative","title":null,"scale":{"domain":[1.00452,1.03571],"nice":false,"zero":false},
   "axis":{"orient":"right","values":[1.0047,1.0062,1.0077,1.0092,1.0107,1.0122,1.0137,1.0152,1.0167,1.01815,1.01965,1.02115,1.02265,1.02415,1.0256,1.0271,1.0286,1.0301,1.0316,1.03305,1.03455],
   "labels":false,"grid":false,"tickSize":3,"tickColor":"#000","domainColor":"#000","title":null}}}},
{"data":{"name":"yt"},"mark":{"type":"text","align":"left","baseline":"middle","fontSize":9.5,"font":"Liberation Sans","color":"#000"},
 "encoding":{"x":{"datum":386.9,"type":"quantitative","scale":{"domain":[-0.875,385.375],"nice":false,"zero":false}},
  "y":{"field":"v","type":"quantitative","title":null,"scale":{"domain":[1.00452,1.03571],"nice":false,"zero":false}},"text":{"field":"v","type":"quantitative","format":".5f"}}},
{"data":{"name":"trend"},"mark":{"type":"rule","color":"#ff0000","strokeWidth":1,"strokeDash":[2,2]},
 "encoding":{"x":{"field":"i0","type":"quantitative","title":null,"scale":{"domain":[-0.875,385.375],"nice":false,"zero":false}},"x2":{"field":"i1"},
  "y":{"field":"p0","type":"quantitative","title":null,"scale":{"domain":[1.00452,1.03571],"nice":false,"zero":false}},"y2":{"field":"p1"}}},
{"data":{"name":"bars"},"mark":{"type":"rule","color":"#000","strokeWidth":1},
 "encoding":{"x":{"field":"i","type":"quantitative","title":null,"scale":{"domain":[-0.875,385.375],"nice":false,"zero":false}},
  "y":{"field":"l","type":"quantitative","title":null,"scale":{"domain":[1.00452,1.03571],"nice":false,"zero":false}},"y2":{"field":"h"}}},
{"data":{"name":"bars"},"mark":{"type":"bar","size":2,"stroke":"#000","strokeWidth":1},
 "encoding":{"x":{"field":"i","type":"quantitative","title":null,"scale":{"domain":[-0.875,385.375],"nice":false,"zero":false}},
  "y":{"field":"o","type":"quantitative","title":null,"scale":{"domain":[1.00452,1.03571],"nice":false,"zero":false}},"y2":{"field":"c"},
  "fill":{"condition":{"test":"datum.c >= datum.o","value":"#3cb043"},"value":"#ff0000"}}},
{"data":{"name":"mas"},"mark":{"type":"line","color":"#800000","strokeWidth":2},
 "encoding":{"x":{"field":"i","type":"quantitative","title":null,"scale":{"domain":[-0.875,385.375],"nice":false,"zero":false}},
  "y":{"field":"v","type":"quantitative","title":null,"scale":{"domain":[1.00452,1.03571],"nice":false,"zero":false}}}},
{"data":{"name":"maf"},"mark":{"type":"line","color":"#008000","strokeWidth":2},
 "encoding":{"x":{"field":"i","type":"quantitative","title":null,"scale":{"domain":[-0.875,385.375],"nice":false,"zero":false}},
  "y":{"field":"v","type":"quantitative","title":null,"scale":{"domain":[1.00452,1.03571],"nice":false,"zero":false}}}},
{"data":{"name":"fib"},"mark":{"type":"text","align":"right","baseline":"bottom","dy":-1,"fontSize":9.5,"font":"Liberation Sans","color":"#000"},
 "encoding":{"x":{"datum":384.875,"type":"quantitative","scale":{"domain":[-0.875,385.375],"nice":false,"zero":false}},
  "y":{"field":"p","type":"quantitative","title":null,"scale":{"domain":[1.00452,1.03571],"nice":false,"zero":false}},"text":{"field":"lv"}}},
{"data":{"name":"tags"},"transform":[{"filter":"datum.k == 'level'"}],"mark":{"type":"rule","color":"#ff0000","strokeWidth":2},
 "encoding":{"y":{"field":"p","type":"quantitative","title":null,"scale":{"domain":[1.00452,1.03571],"nice":false,"zero":false}}}},
{"data":{"name":"tags"},"mark":{"type":"rect","yOffset":-5,"y2Offset":5},
 "encoding":{"x":{"datum":385.75,"type":"quantitative","scale":{"domain":[-0.875,385.375],"nice":false,"zero":false}},"x2":{"datum":396.6},
  "y":{"field":"p","type":"quantitative","title":null,"scale":{"domain":[1.00452,1.03571],"nice":false,"zero":false}},"y2":{"field":"p"},
  "fill":{"condition":{"test":"datum.k == 'level'","value":"#ff0000"},"value":"#000000"}}},
{"data":{"name":"tags"},"mark":{"type":"text","align":"left","baseline":"middle","fontSize":9.5,"font":"Liberation Sans","color":"#ffffff"},
 "encoding":{"x":{"datum":386.6,"type":"quantitative","scale":{"domain":[-0.875,385.375],"nice":false,"zero":false}},
  "y":{"field":"p","type":"quantitative","title":null,"scale":{"domain":[1.00452,1.03571],"nice":false,"zero":false}},"text":{"field":"t"}}}
]
}
